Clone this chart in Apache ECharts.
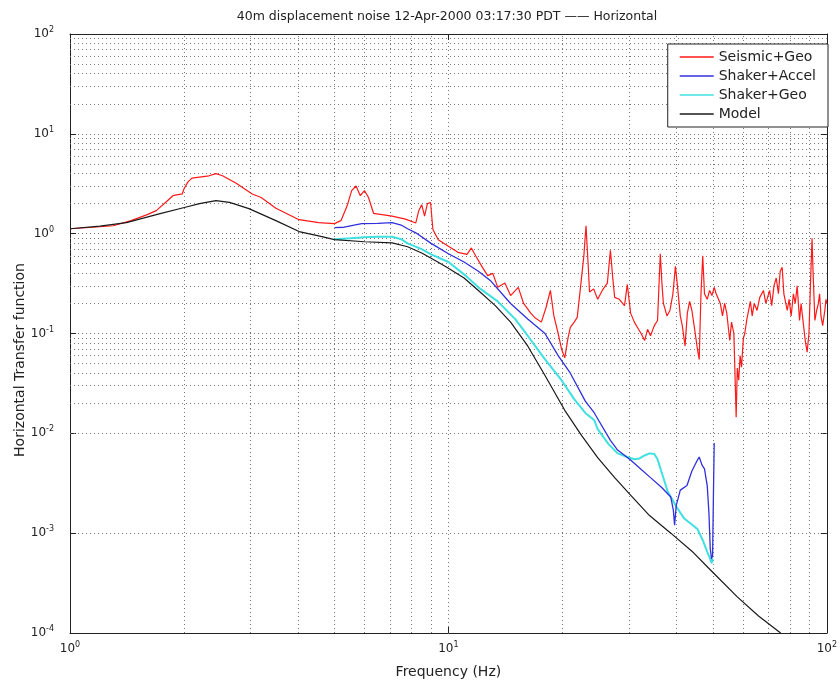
<!DOCTYPE html>
<html>
<head>
<meta charset="utf-8">
<script src="https://cdn.jsdelivr.net/npm/echarts@6/dist/echarts.min.js"></script>
<style>html,body{margin:0;padding:0;background:#fff}#c{width:840px;height:685px}</style>
</head>
<body>
<div id="c"></div>
<script>
// ---- data ----
const xTicks = [1, 10, 100];
const yTicks = [1e-4, 1e-3, 1e-2, 1e-1, 1, 10, 100];
const xMinor = [2,3,4,5,6,7,8,9,20,30,40,50,60,70,80,90];
const yMinor = [2e-4,3e-4,4e-4,5e-4,6e-4,7e-4,8e-4,9e-4,2e-3,3e-3,4e-3,5e-3,6e-3,7e-3,8e-3,9e-3,
  0.02,0.03,0.04,0.05,0.06,0.07,0.08,0.09,0.2,0.3,0.4,0.5,0.6,0.7,0.8,0.9,2,3,4,5,6,7,8,9,20,30,40,50,60,70,80,90];

const modelFreq = [1,1.2,1.41,1.72,2.03,2.2,2.43,2.64,2.97,3.5,4.03,4.54,5.0,6.0,7.1,7.8,8.5,9.3,10,11,12,13.3,14.6,16.2,18,20.3,22.5,24.8,27.5,30.3,34,38.7,44,49.2,58,66,75.5];
const modelVal  = [1.12,1.19,1.29,1.58,1.85,2.0,2.14,2.06,1.78,1.35,1.05,0.95,0.87,0.83,0.81,0.74,0.64,0.53,0.45,0.36,0.27,0.19,0.13,0.075,0.038,0.017,0.0095,0.0057,0.0036,0.0024,0.0015,0.001,0.00066,0.00043,0.00023,0.000148,0.0001];

const accelFreq = [5.0,5.3,5.9,6.5,7.1,7.5,7.8,8.2,9.0,10,11,12,12.9,14.6,16.2,18,19.5,21,23,24.3,24.8,26.8,28,30.3,32,34.2,36.5,38.7,39.3,39.6,40,41,42.7,44,45.5,46,46.8,47.5,48.3,48.8,49.2,49.6,49.9,50.2,50.4];
const accelVal  = [1.15,1.16,1.26,1.27,1.29,1.22,1.12,1.02,0.8,0.63,0.52,0.42,0.34,0.2,0.14,0.1,0.06,0.04,0.021,0.016,0.014,0.0085,0.0068,0.0054,0.0045,0.0036,0.0029,0.0023,0.0017,0.0012,0.0019,0.0027,0.003,0.0042,0.0054,0.0058,0.0048,0.0044,0.003,0.0016,0.0007,0.00055,0.0006,0.003,0.008];

const geoFreq = [5.0,5.5,6.0,6.5,7.1,7.5,7.8,8.5,9.0,10,11.1,12,13.5,15,16.2,18,19.8,21.5,23,24.3,24.8,26.5,28,29.7,31,32,33,34,35,35.7,36.5,38,40.2,42,45.5,47,48.3,49.2,49.6,50];
const geoVal  = [0.88,0.9,0.92,0.93,0.93,0.88,0.8,0.7,0.62,0.52,0.38,0.29,0.21,0.14,0.095,0.055,0.035,0.022,0.016,0.0135,0.011,0.0078,0.0063,0.0058,0.0055,0.0056,0.006,0.0063,0.0062,0.0055,0.0042,0.0026,0.0018,0.0014,0.0011,0.00085,0.00065,0.00055,0.0005,0.00055];

const seisFreq = [1,1.15,1.3,1.45,1.6,1.69,1.8,1.87,1.98,2.0,2.05,2.1,2.33,2.43,2.53,2.75,3.03,3.2,3.5,4.03,4.54,5.0,5.2,5.4,5.55,5.7,5.85,6.0,6.15,6.34,7.1,7.7,8.2,8.35,8.5,8.65,8.8,8.97,9.1,9.4,10,10.6,11.2,11.5,11.8,12.3,12.7,13.1,13.5,14.1,14.6,15.3,15.8,16.5,16.9,17.6,18.1,18.6,19.0,19.5,19.9,20.3,20.7,21.0,21.5,21.9,22.4,22.8,23.1,23.4,23.6,24.2,24.8,25.5,26.3,26.8,27.2,27.5,28.3,29.2,29.7,30.3,31,31.6,32.3,33,33.6,34.2,35,35.7,36.3,36.7,37,37.8,38.5,39.2,39.8,40.3,41,41.5,42.2,42.8,43.4,44,44.6,45.5,46,46.5,47,47.5,48.3,49,49.7,50.4,51,52.3,53,53.7,54.4,55.4,56,56.8,57.3,57.6,58,58.5,59,59.5,60.2,60.7,61.5,62.8,63.5,64.3,65.4,66.5,68,69,70.6,71.5,72.5,73.5,74.5,75.3,76.2,77,78.6,79.5,80.5,81.6,82.5,83.5,84.7,85.5,86.8,87.7,88.7,89.7,90.5,91.4,92,93,94,95,95.7,96.5,97.5,98.8,99.5,100];
const seisVal  = [1.12,1.16,1.2,1.35,1.55,1.7,2.1,2.4,2.5,2.8,3.3,3.6,3.8,4.0,3.8,3.2,2.5,2.3,1.8,1.38,1.29,1.26,1.35,1.9,2.7,3.0,2.4,2.7,2.3,1.6,1.5,1.4,1.28,1.7,1.95,1.5,2.0,2.05,1.1,0.87,0.75,0.65,0.62,0.72,0.6,0.46,0.38,0.4,0.29,0.32,0.24,0.29,0.2,0.16,0.145,0.13,0.18,0.27,0.15,0.1,0.07,0.057,0.09,0.115,0.13,0.145,0.32,0.6,1.2,0.5,0.26,0.28,0.22,0.27,0.32,0.68,0.35,0.23,0.22,0.19,0.31,0.16,0.13,0.115,0.1,0.085,0.11,0.095,0.12,0.135,0.63,0.3,0.2,0.15,0.17,0.25,0.47,0.3,0.15,0.12,0.075,0.16,0.21,0.17,0.12,0.07,0.055,0.25,0.6,0.25,0.22,0.27,0.24,0.29,0.25,0.2,0.15,0.2,0.16,0.085,0.13,0.1,0.03,0.0145,0.045,0.034,0.06,0.046,0.09,0.1,0.14,0.21,0.15,0.2,0.17,0.23,0.27,0.2,0.27,0.19,0.3,0.36,0.25,0.42,0.46,0.25,0.17,0.22,0.15,0.25,0.2,0.3,0.135,0.2,0.12,0.085,0.065,0.1,0.3,0.9,0.4,0.135,0.17,0.2,0.25,0.15,0.12,0.17,0.22,0.2];

const zip = (a, b) => a.map((v, i) => [v, b[i]]);

const FONT = 'DejaVu Sans';
const supLabel = v => {
  const e = Math.round(Math.log10(v));
  return '{b|10}{s|' + e + '}';
};
const richLbl = {
  b: {fontSize: 12, fontFamily: FONT, color: '#222'},
  s: {fontSize: 8, fontFamily: FONT, color: '#222', padding: [0, 0, 8, 0]}
};
const gridStyle = {color: '#777', width: 1, type: [1, 3]};

const chart = echarts.init(document.getElementById('c'), null, {renderer: 'canvas'});
chart.setOption({
  animation: false,
  backgroundColor: '#fff',
  title: {
    text: '40m displacement noise 12-Apr-2000 03:17:30 PDT \u2014\u2014 Horizontal',
    left: 442, top: 5, textAlign: 'center',
    textStyle: {fontSize: 12.5, fontWeight: 'normal', fontFamily: FONT, color: '#222'}
  },
  graphic: [{
    type: 'text', x: 20, y: 360, rotation: Math.PI / 2,
    style: {text: 'Horizontal Transfer function', fontSize: 14, fontFamily: FONT, fill: '#222',
      align: 'center', verticalAlign: 'middle'}
  }],
  legend: {
    data: ['Seismic+Geo', 'Shaker+Accel', 'Shaker+Geo', 'Model'],
    orient: 'vertical', right: 12, top: 44, icon: 'rect',
    backgroundColor: '#fff', borderColor: '#222', borderWidth: 1,
    padding: [6, 12, 6, 12], itemGap: 5, itemWidth: 34, itemHeight: 1.5,
    textStyle: {fontSize: 14, fontFamily: FONT, color: '#222'}
  },
  grid: {left: 70, right: 10, top: 34, bottom: 52},
  xAxis: [{
    type: 'log', logBase: 10, min: 1, max: 100, splitNumber: 2,
    name: 'Frequency (Hz)', nameLocation: 'middle', nameGap: 32,
    nameTextStyle: {fontSize: 14, fontFamily: FONT, color: '#222'},
    axisLine: {show: true, lineStyle: {color: '#222'}},
    axisTick: {show: true, inside: true, length: 6, lineStyle: {color: '#222'}},
    axisLabel: {formatter: supLabel, rich: richLbl, margin: 8},
    splitLine: {show: true, lineStyle: gridStyle}
  }, {
    type: 'log', logBase: 10, min: 1, max: 100, splitNumber: 2, position: 'top',
    axisLine: {show: true, lineStyle: {color: '#222'}},
    axisTick: {show: true, inside: true, length: 6, lineStyle: {color: '#222'}},
    axisLabel: {show: false}, splitLine: {show: false}
  }],
  yAxis: [{
    type: 'log', logBase: 10, min: 1e-4, max: 100, splitNumber: 6,
    axisLine: {show: true, lineStyle: {color: '#222'}},
    axisTick: {show: true, inside: true, length: 6, lineStyle: {color: '#222'}},
    axisLabel: {formatter: supLabel, rich: richLbl, margin: 16},
    splitLine: {show: true, lineStyle: gridStyle}
  }, {
    type: 'log', logBase: 10, min: 1e-4, max: 100, splitNumber: 6, position: 'right',
    axisLine: {show: true, lineStyle: {color: '#222'}},
    axisTick: {show: true, inside: true, length: 6, lineStyle: {color: '#222'}},
    axisLabel: {show: false}, splitLine: {show: false}
  }],
  series: [
    {
      type: 'line', name: 'grid', data: [], silent: true,
      markLine: {
        silent: true, symbol: 'none', z: 1, animation: false,
        label: {show: false}, lineStyle: gridStyle, emphasis: {disabled: true},
        data: xMinor.map(v => ({xAxis: v})).concat(yMinor.map(v => ({yAxis: v})))
      }
    },
    {type: 'line', name: 'Model', data: zip(modelFreq, modelVal), symbol: 'none',
      lineStyle: {color: '#1a1a1a', width: 1.2}, itemStyle: {color: '#1a1a1a'}, z: 4},
    {type: 'line', name: 'Shaker+Geo', data: zip(geoFreq, geoVal), symbol: 'none',
      lineStyle: {color: '#40e0e0', width: 2}, itemStyle: {color: '#40e0e0'}, z: 3},
    {type: 'line', name: 'Shaker+Accel', data: zip(accelFreq, accelVal), symbol: 'none',
      lineStyle: {color: '#3030dd', width: 1.3}, itemStyle: {color: '#3030dd'}, z: 3},
    {type: 'line', name: 'Seismic+Geo', data: zip(seisFreq, seisVal), symbol: 'none',
      lineStyle: {color: '#ff1a1a', width: 1.2}, itemStyle: {color: '#ff1a1a'}, z: 2}
  ]
});
</script>
</body>
</html>
